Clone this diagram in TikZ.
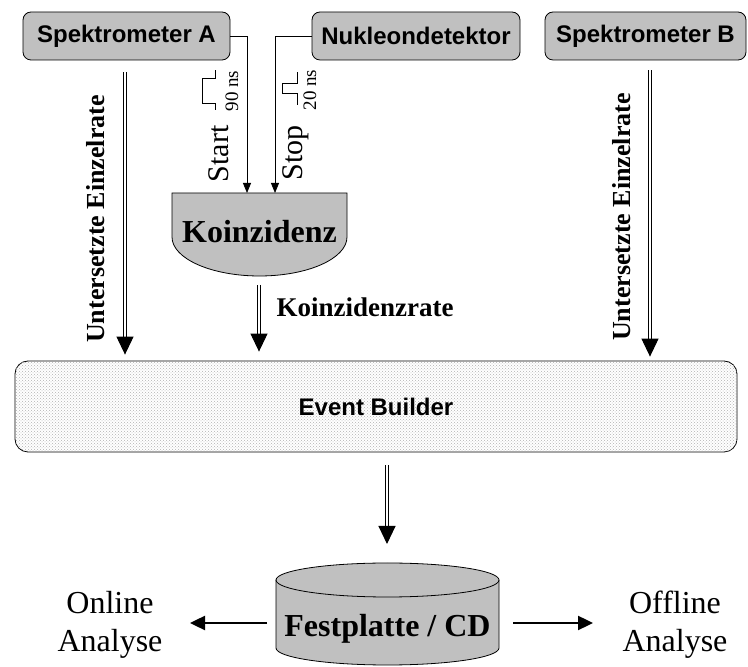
\documentclass[tikz,border=0pt]{standalone}
\usepackage{fontspec}
\setmainfont{Liberation Serif}
\setsansfont{Liberation Sans}
\usetikzlibrary{arrows.meta, positioning, patterns}

\definecolor{boxgray}{RGB}{192,192,192}
\newcommand{\fsz}[1]{\fontsize{#1}{#1}\selectfont}

\begin{document}
\begin{tikzpicture}[
x=1pt, y=1pt,
boxnode/.style={rectangle, draw=black, fill=boxgray, rounded corners=8pt, line width=0.8pt, minimum height=48pt, inner sep=0pt, font=\sffamily\bfseries\fsz{24}},
ratelabel/.style={font=\bfseries\fsz{26}, rotate=90},
timelabel/.style={font=\fsz{30}, rotate=90},
nslabel/.style={font=\fsz{19}, rotate=90},
dblarrow/.style={double, double distance=2pt, line width=1pt, -{Triangle[length=18pt,width=17pt]}},
sigarrow/.style={line width=0.8pt, -{Triangle[length=10pt,width=8pt]}},
outarrow/.style={line width=2.4pt, -{Triangle[length=15pt,width=14pt]}},
]
\useasboundingbox (0,0) rectangle (748,667);

%Nodes
\node[boxnode, minimum width=207pt] (spek_a_node)   at (126.5,631) {Spektrometer A};
\node[boxnode, minimum width=208pt] (nukleon_node)  at (416,631)   {Nukleondetektor};
\node[boxnode, minimum width=201pt] (spek_b_node)   at (645.5,631) {Spektrometer B};

\node[boxnode, rounded corners=13pt, minimum width=722pt, minimum height=91pt, fill=white,
      postaction={pattern=crosshatch dots, pattern color=black!30}] (event_node) at (376,260.5) {Event Builder};

% Koinzidenz
\draw[line width=0.8pt, fill=boxgray] (172,474) -- (347,474) -- (347,430)
  arc[start angle=0, end angle=-180, x radius=87.5pt, y radius=39pt] -- cycle;
\node[font=\bfseries\fsz{32}, anchor=base] (koinz_node) at (259.5,424) {Koinzidenz};
\coordinate (koinz_start) at (247,474);
\coordinate (koinz_stop)  at (275,474);
\coordinate (koinz_out)   at (259,391);

% Festplatte
\fill[boxgray] (276,87) -- (276,19) arc[start angle=180, end angle=360, x radius=111.5pt, y radius=17pt] -- (499,87) -- cycle;
\draw[line width=0.8pt] (276,87) -- (276,19) arc[start angle=180, end angle=360, x radius=111.5pt, y radius=17pt] -- (499,87);
\draw[line width=0.8pt, fill=boxgray] (387.5,87) ellipse [x radius=111.5pt, y radius=17pt];
\node[font=\bfseries\fsz{32}, anchor=base] (disk_node) at (387.5,30) {Festplatte / CD};
\coordinate (disk_top)   at (387,104);
\coordinate (disk_left)  at (267,44);
\coordinate (disk_right) at (513,44);

\node[font=\fontsize{32}{38}\selectfont, align=center] (online_node)  at (110,42) {Online\\Analyse};
\node[font=\fontsize{32}{38}\selectfont, align=center] (offline_node) at (675,42) {Offline\\Analyse};
\coordinate (online_tip)  at (190,44);
\coordinate (offline_tip) at (593,44);

%Labels
\node[ratelabel] (rate_a_label) at (96,448)  {Untersetzte Einzelrate};
\node[ratelabel] (rate_b_label) at (622,450) {Untersetzte Einzelrate};
\node[font=\bfseries\fsz{27}, anchor=base west] (koinzrate_label) at (273,350) {Koinzidenzrate};
\node[timelabel] (start_label) at (219,513) {Start};
\node[timelabel] (stop_label)  at (296,514) {Stop};
\node[nslabel] (start_ns) at (232,576) {90 ns};
\node[nslabel] (stop_ns)  at (310,577) {20 ns};

% Pulse
\draw[line width=0.8pt] (215,557) -- (215,564) -- (202,564) -- (202,589) -- (215,589) -- (215,597);
\draw[line width=0.8pt] (297,562) -- (297,574) -- (282,574) -- (282,584) -- (297,584) -- (297,595);

%Lines
\draw[sigarrow] (spek_a_node.east) -| (koinz_start);
\draw[sigarrow] (nukleon_node.west) -| (koinz_stop);

\draw[dblarrow, shorten <=12pt, shorten >=6pt] ([xshift=-1.5pt]spek_a_node.south) -- ([xshift=-1.5pt]spek_a_node.south |- event_node.north);
\draw[dblarrow, shorten <=10pt, shorten >=4pt] ([xshift=4.5pt]spek_b_node.south) -- ([xshift=4.5pt]spek_b_node.south |- event_node.north);
\draw[dblarrow, shorten <=9pt, shorten >=9pt] (koinz_out) -- (koinz_out |- event_node.north);
\draw[dblarrow, shorten <=13pt, shorten >=19pt] (disk_top |- event_node.south) -- (disk_top);

\draw[outarrow] (disk_left) -- (online_tip);
\draw[outarrow] (disk_right) -- (offline_tip);

\end{tikzpicture}
\end{document}
